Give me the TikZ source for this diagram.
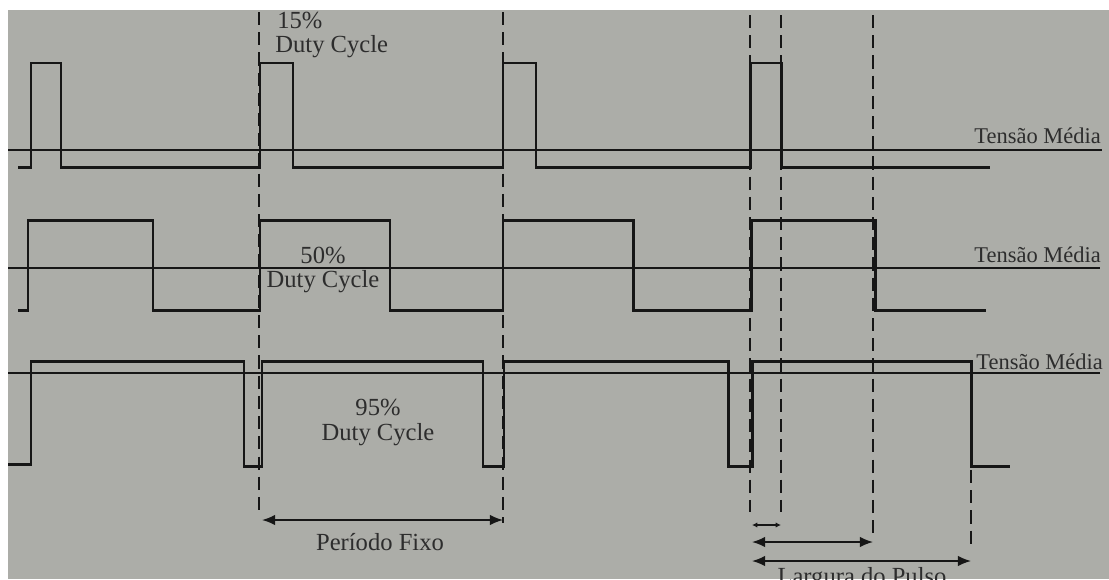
\documentclass[tikz,border=0pt]{standalone}
\usepackage{fontspec}
\setmainfont{Liberation Serif}
\usetikzlibrary{arrows.meta}
\definecolor{paper}{RGB}{172,173,168}
\definecolor{ink}{RGB}{22,22,22}
\definecolor{txt}{RGB}{45,45,45}
\tikzset{
  sig/.style={draw=ink, line width=1.7pt, line join=miter},
  meanline/.style={draw=ink, line width=0.9pt},
  guide/.style={draw=ink, line width=0.9pt, dash pattern=on 7.5pt off 4pt},
  dim/.style={draw=ink, line width=0.9pt, {Latex[length=7.5pt,width=6pt]}-{Latex[length=7.5pt,width=6pt]}},
  dimsmall/.style={draw=ink, line width=0.9pt, {Latex[length=3pt,width=3pt]}-{Latex[length=3pt,width=3pt]}},
  lbl/.style={text=txt, font=\fontsize{14}{16}\selectfont, inner sep=0pt},
  mlbl/.style={text=txt, font=\fontsize{12.8}{15}\selectfont, inner sep=0pt},
}
\begin{document}
\begin{tikzpicture}[x=0.02cm,y=-0.02cm]
\useasboundingbox (0,0) rectangle (1109,579);
\fill[white] (0,0) rectangle (1109,579);
\fill[paper] (8,10) rectangle (1109,579);

% named coordinates
\coordinate (g1t) at (259,12);  \coordinate (g1b) at (259,517);
\coordinate (g2t) at (503,12);  \coordinate (g2b) at (503,523);
\coordinate (g3t) at (750,15);  \coordinate (g3b) at (750,512);
\coordinate (g4t) at (781,15);  \coordinate (g4b) at (781,512);
\coordinate (g5t) at (873,15);  \coordinate (g5b) at (873,540);
\coordinate (g6t) at (971,470); \coordinate (g6b) at (971,546);

% guide lines
\draw[guide] (g1t) -- (g1b);
\draw[guide] (g2t) -- (g2b);
\draw[guide] (g3t) -- (g3b);
\draw[guide] (g4t) -- (g4b);
\draw[guide] (g5t) -- (g5b);
\draw[guide] (g6t) -- (g6b);

% mean lines
\coordinate (m1a) at (8,150); \coordinate (m1b) at (1102,150);
\coordinate (m2a) at (8,268); \coordinate (m2b) at (1100,268);
\coordinate (m3a) at (8,373); \coordinate (m3b) at (1100,373);
\draw[meanline] (m1a) -- (m1b);
\draw[meanline] (m2a) -- (m2b);
\draw[meanline] (m3a) -- (m3b);

% 15% waveform
\draw[sig] (18,167) -- (31,167) -- (31,63) -- (61,63) -- (61,167) -- (260,167)
  -- (260,63) -- (293,63) -- (293,167) -- (503,167) -- (503,63) -- (536,63)
  -- (536,167) -- (750,167) -- (750,63) -- (781,63) -- (781,167) -- (990,167);

% 50% waveform
\draw[sig] (18,310) -- (28,310) -- (28,220) -- (153,220) -- (153,310) -- (260,310)
  -- (260,220) -- (390,220) -- (390,310) -- (503,310) -- (503,220) -- (633,220)
  -- (633,310) -- (751,310) -- (751,220) -- (875,220) -- (875,310) -- (986,310);

% 95% waveform
\draw[sig] (8,464) -- (31,464) -- (31,361) -- (244,361) -- (244,466) -- (262,466)
  -- (262,361) -- (483,361) -- (483,466) -- (504,466) -- (504,361) -- (728,361)
  -- (728,466) -- (752,466) -- (752,361) -- (971,361) -- (971,466) -- (1010,466);

% labels
\node[lbl, anchor=west] (p15) at (277,20) {15\%};
\node[lbl, anchor=west] (d15) at (275,47) {Duty Cycle};
\node[lbl] (p50) at (323,255) {50\%};
\node[lbl] (d50) at (323,282) {Duty Cycle};
\node[lbl] (p95) at (378,407) {95\%};
\node[lbl] (d95) at (378,435) {Duty Cycle};
\node[mlbl, anchor=west] (t1) at (974,136) {Tensão Média};
\node[mlbl, anchor=west] (t2) at (974,255) {Tensão Média};
\node[mlbl, anchor=west] (t3) at (976,362) {Tensão Média};

% Período Fixo
\coordinate (pa) at (262,520); \coordinate (pb) at (503,520);
\draw[dim] (pa) -- (pb);
\node[lbl] (pf) at (380,542) {Período Fixo};

% pulse width arrows
\coordinate (a1) at (752,525); \coordinate (a1e) at (781,525);
\coordinate (a2) at (752,542); \coordinate (a2e) at (873,542);
\coordinate (a3) at (752,561); \coordinate (a3e) at (971,561);
\draw[dimsmall] (a1) -- (a1e);
\draw[dim] (a2) -- (a2e);
\draw[dim] (a3) -- (a3e);
\node[lbl, anchor=base] (lp) at (862,584) {Largura do Pulso};
\end{tikzpicture}
\end{document}
